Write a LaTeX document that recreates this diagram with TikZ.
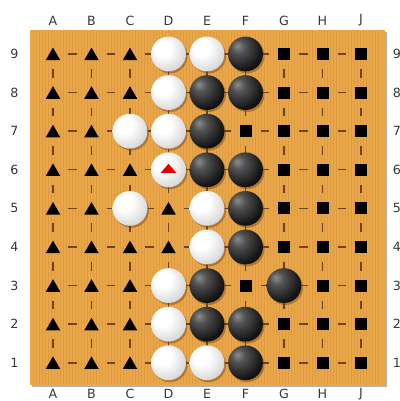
\documentclass[tikz,border=0pt]{standalone}
\usepackage{fontspec}
\setmainfont{DejaVu Sans}
\usetikzlibrary{shapes.geometric,shadows}

\definecolor{boardwood}{RGB}{234,167,74}
\definecolor{grainwood}{RGB}{214,146,60}
\definecolor{gridbrown}{RGB}{112,66,22}
\definecolor{labelgray}{RGB}{55,55,55}

\pgfdeclareradialshading{whitestone}{\pgfpoint{-10bp}{10bp}}{color(0bp)=(white); color(12bp)=(white); color(30bp)=(black!14); color(44bp)=(black!32); color(58bp)=(black!45); color(80bp)=(black!45)}
\pgfdeclareradialshading{blackstone}{\pgfpoint{-12bp}{12bp}}{color(0bp)=(black!45); color(10bp)=(black!68); color(30bp)=(black!92); color(50bp)=(black); color(80bp)=(black)}

\tikzset{
  gridline/.style={gridbrown, line width=1pt, shorten >=0.375cm, shorten <=0.375cm},
  tri/.style={regular polygon, regular polygon sides=3, fill=black, inner sep=0pt, minimum size=0.42cm, yshift=-0.05cm},
  sq/.style={rectangle, fill=black, inner sep=0pt, minimum size=0.3cm},
  stoneshadow/.style={drop shadow={shadow xshift=0.04cm, shadow yshift=-0.05cm, opacity=0.45, fill=gridbrown}},
  wstone/.style={circle, inner sep=0pt, minimum size=0.87cm, shading=whitestone, stoneshadow},
  bstone/.style={circle, inner sep=0pt, minimum size=0.87cm, shading=blackstone, stoneshadow},
  coordlabel/.style={font=\fontsize{9}{10}\selectfont, text=labelgray, inner sep=0pt}
}

\begin{document}
\begin{tikzpicture}
\useasboundingbox (0,0) rectangle (9.975,10.025);

% board
\fill[black!30] (0.8,0.35) rectangle (9.675,9.225);
\fill[boardwood] (0.75,0.4) rectangle (9.625,9.275);
\foreach \gx in {1,...,116}
  \draw[grainwood, line width=0.3pt, opacity=0.55] (0.75+0.075*\gx,0.42) -- (0.75+0.075*\gx,9.255);

\begin{scope}[shift={(0.3625,-0.01)}, x=0.9625cm, y=0.965cm]
% grid
\foreach \c in {1,...,9} {
  \foreach \n [evaluate=\n as \m using int(\n+1)] in {1,...,8} {
    \draw[gridline] (\c,\n) -- (\c,\m);
    \draw[gridline] (\n,\c) -- (\m,\c);
  }
}

% coordinates
\foreach \l [count=\c] in {A,B,C,D,E,F,G,H,J} {
  \node[coordlabel] (top\l) at (\c,9.866) {\l};
  \node[coordlabel] (bot\l) at (\c,0.2) {\l};
}
\foreach \n in {1,...,9} {
  \node[coordlabel] (left\n) at (0,\n) {\n};
  \node[coordlabel] (right\n) at (9.93,\n) {\n};
}

% white stones
\node[wstone] (D9) at (4,9) {};
\node[wstone] (E9) at (5,9) {};
\node[wstone] (D8) at (4,8) {};
\node[wstone] (C7) at (3,7) {};
\node[wstone] (D7) at (4,7) {};
\node[wstone] (D6) at (4,6) {};
\node[wstone] (C5) at (3,5) {};
\node[wstone] (E5) at (5,5) {};
\node[wstone] (E4) at (5,4) {};
\node[wstone] (D3) at (4,3) {};
\node[wstone] (D2) at (4,2) {};
\node[wstone] (D1) at (4,1) {};
\node[wstone] (E1) at (5,1) {};

% black stones
\node[bstone] (F9) at (6,9) {};
\node[bstone] (E8) at (5,8) {};
\node[bstone] (F8) at (6,8) {};
\node[bstone] (E7) at (5,7) {};
\node[bstone] (E6) at (5,6) {};
\node[bstone] (F6) at (6,6) {};
\node[bstone] (F5) at (6,5) {};
\node[bstone] (F4) at (6,4) {};
\node[bstone] (E3) at (5,3) {};
\node[bstone] (G3) at (7,3) {};
\node[bstone] (E2) at (5,2) {};
\node[bstone] (F2) at (6,2) {};
\node[bstone] (F1) at (6,1) {};

% last move
\fill[red!88!black] ([shift={(-0.2cm,-0.08cm)}]D6.center) -- ([shift={(0.2cm,-0.08cm)}]D6.center) -- ([shift={(0cm,0.15cm)}]D6.center) -- cycle;

% triangles
\foreach \n in {1,...,9} {
  \node[tri] (A\n) at (1,\n) {};
  \node[tri] (B\n) at (2,\n) {};
}
\node[tri] (C9) at (3,9) {};
\node[tri] (C8) at (3,8) {};
\node[tri] (C6) at (3,6) {};
\node[tri] (C4) at (3,4) {};
\node[tri] (C3) at (3,3) {};
\node[tri] (C2) at (3,2) {};
\node[tri] (C1) at (3,1) {};
\node[tri] (D5) at (4,5) {};
\node[tri] (D4) at (4,4) {};

% squares
\foreach \n in {1,...,9} {
  \node[sq] (H\n) at (8,\n) {};
  \node[sq] (J\n) at (9,\n) {};
}
\foreach \n in {1,2,4,5,6,7,8,9}
  \node[sq] (G\n) at (7,\n) {};
\node[sq] (F7) at (6,7) {};
\node[sq] (F3) at (6,3) {};
\end{scope}
\end{tikzpicture}
\end{document}
